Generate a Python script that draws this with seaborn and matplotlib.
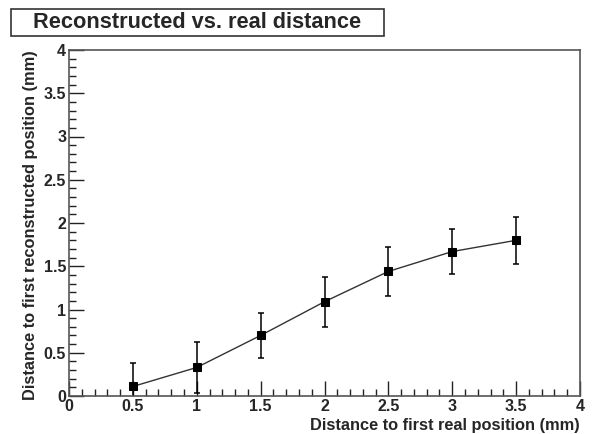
import seaborn as sns
import matplotlib.pyplot as plt
import pandas as pd
from matplotlib.ticker import MultipleLocator
from matplotlib.patches import Rectangle

# data
real_dist = [0.5, 1.0, 1.5, 2.0, 2.5, 3.0, 3.5]
reco_dist = [0.11, 0.33, 0.70, 1.09, 1.44, 1.67, 1.80]
reco_err = [0.27, 0.29, 0.26, 0.29, 0.28, 0.26, 0.27]

x_ticks = [0, 0.5, 1, 1.5, 2, 2.5, 3, 3.5, 4]
y_ticks = [0, 0.5, 1, 1.5, 2, 2.5, 3, 3.5, 4]

df = pd.DataFrame({'real': real_dist, 'reco': reco_dist, 'err': reco_err})

sns.set_style('white')
plt.rcParams['font.family'] = ['Liberation Sans', 'DejaVu Sans']
plt.rcParams['font.weight'] = 'bold'

fig = plt.figure(figsize=(5.94, 4.34), dpi=100)
W, H = 594, 434
ax = fig.add_axes([69 / W, 1 - 396 / H, (580 - 69) / W, (396 - 50) / H])

ax.errorbar(df['real'], df['reco'], yerr=df['err'], fmt='none',
            ecolor='black', elinewidth=1.1, capsize=2.5, capthick=1.1, zorder=2)
sns.lineplot(data=df, x='real', y='reco', ax=ax, color='#333333', linewidth=1.0,
             marker='s', markersize=6, markerfacecolor='black',
             markeredgecolor='black', zorder=3)

ax.set_xlim(0, 4)
ax.set_ylim(0, 4)
ax.set_xticks(x_ticks)
ax.set_yticks(y_ticks)
ax.set_xticklabels([f'{t:g}' for t in x_ticks])
ax.set_yticklabels([f'{t:g}' for t in y_ticks])
ax.xaxis.set_minor_locator(MultipleLocator(0.1))
ax.yaxis.set_minor_locator(MultipleLocator(0.1))
ax.tick_params(which='major', direction='in', length=11, width=1, labelsize=11.5,
               bottom=True, left=True, top=False, right=False, pad=2,
               color='#222222')
ax.tick_params(which='minor', direction='in', length=5, width=1,
               bottom=True, left=True, top=False, right=False, color='#222222')
for sp in ax.spines.values():
    sp.set_color('#555555')
    sp.set_linewidth(1.2)
    sp.set_visible(True)

ax.set_xlabel('Distance to first real position (mm)', fontsize=11.8,
              fontweight='bold', loc='right', labelpad=3)
ax.set_ylabel('Distance to first reconstructed position (mm)', fontsize=11.8,
              fontweight='bold', loc='top', labelpad=4)

# title box
fig.patches.append(Rectangle((11 / W, 1 - 36 / H), (384 - 11) / W, 27 / H,
                             transform=fig.transFigure, facecolor='white',
                             edgecolor='#333333', linewidth=1.2))
fig.text(197 / W, 1 - 22.5 / H, 'Reconstructed vs. real distance', fontsize=15.7,
         fontweight='bold', ha='center', va='center')

fig.savefig('out.png', dpi=100)
